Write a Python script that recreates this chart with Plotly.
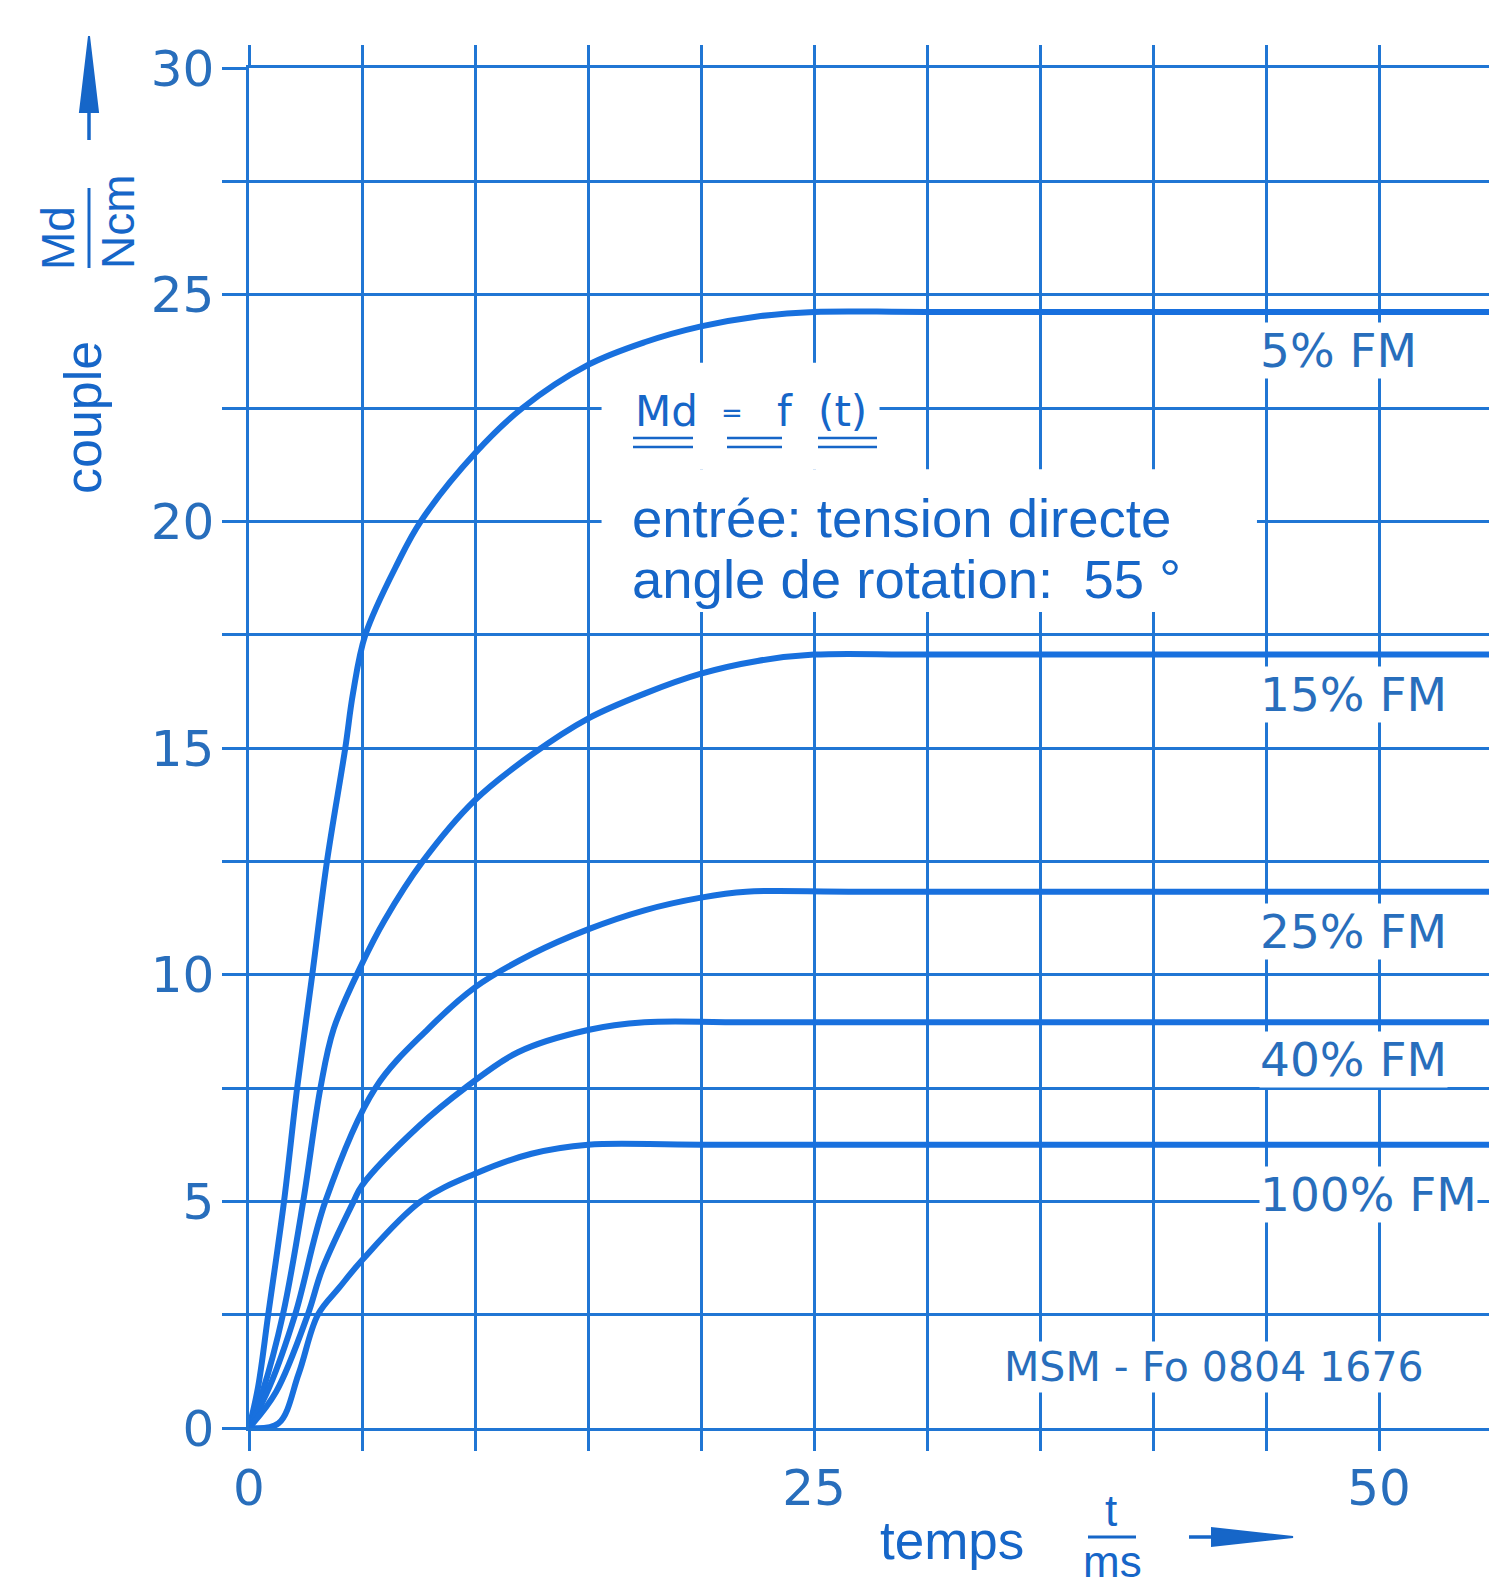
import plotly.graph_objects as go

# ---------------- data ----------------
t_5 = [0, 0.4, 0.85, 1.55, 2.13, 2.8, 3.45, 4.26, 4.6, 5.15, 6.6, 7.6, 10.0, 12.1, 15.0, 17.5, 20.0, 22.5, 25.0, 30.0, 55.0]
md_5 = [0, 0.9, 2.5, 5.0, 7.5, 10.0, 12.5, 15.0, 16.2, 17.5, 19.1, 20.0, 21.5, 22.5, 23.45, 23.95, 24.3, 24.52, 24.62, 24.62, 24.62]

t_15 = [0, 0.6, 1.5, 2.4, 3.16, 3.75, 5.0, 6.0, 7.69, 10.0, 12.5, 15.0, 17.5, 20.0, 22.5, 25.0, 30.0, 55.0]
md_15 = [0, 0.8, 2.5, 5.0, 7.5, 8.81, 10.24, 11.2, 12.5, 13.85, 14.85, 15.65, 16.2, 16.64, 16.92, 17.06, 17.06, 17.06]

t_25 = [0, 0.9, 2.04, 3.38, 5.59, 7.94, 10.0, 12.5, 15.0, 17.5, 20.0, 22.0, 27.0, 55.0]
md_25 = [0, 0.9, 2.5, 5.0, 7.5, 8.81, 9.72, 10.45, 11.0, 11.42, 11.7, 11.83, 11.83, 11.83]

t_40 = [0, 1.2, 2.6, 3.24, 4.63, 5.0, 7.5, 9.56, 11.9, 15.0, 17.5, 22.0, 55.0]
md_40 = [0, 0.8, 2.5, 3.5, 5.0, 5.35, 6.65, 7.5, 8.29, 8.78, 8.95, 8.95, 8.95]

t_100 = [0, 1.3, 2.2, 3.05, 4.0, 5.0, 7.6, 10.0, 12.5, 15.0, 20.0, 55.0]
md_100 = [0, 0.1, 1.2, 2.5, 3.1, 3.7, 5.0, 5.61, 6.05, 6.25, 6.25, 6.25]

curve_labels = ["5% FM", "15% FM", "25% FM", "40% FM", "100% FM"]
label_y = [23.76, 16.17, 10.96, 8.12, 5.16]
label_x = 44.7

x_tick_vals = [0, 5, 10, 15, 20, 25, 30, 35, 40, 45, 50, 55]
x_tick_text = ["0", "", "", "", "", "25", "", "", "", "", "50", ""]
y_tick_vals = [0, 2.5, 5, 7.5, 10, 12.5, 15, 17.5, 20, 22.5, 25, 27.5, 30]
y_tick_text = ["0", "", "5", "", "10", "", "15", "", "20", "", "25", "", "30"]

# ---------------- styling ----------------
CURVE = "rgb(24,112,222)"
GRID = "rgb(32,118,212)"
TXT = "rgb(22,102,200)"
TICKTXT = "rgb(40,110,188)"
DIN = "DejaVu Sans, Liberation Sans, sans-serif"
HEL = "Liberation Sans, Arial, sans-serif"

# page geometry (the html body adds an 8 px offset)
OFF = 8
PL, PT = 249, 68          # plot area top-left on the page
PW, PH = 1243, 1360       # plot area size
W, H = 1489, 1579
L, T = PL - OFF, PT - OFF
R = W - L - PW
B = H - T - PH


def PX(px):
    return (px - PL) / PW


def PY(py):
    return (PT + PH - py) / PH


fig = go.Figure()
for t, m in [(t_5, md_5), (t_15, md_15), (t_25, md_25), (t_40, md_40), (t_100, md_100)]:
    fig.add_trace(go.Scatter(x=t, y=m, mode="lines",
                             line=dict(color=CURVE, width=6, shape="spline", smoothing=1.0),
                             hoverinfo="skip", showlegend=False))

shapes = []
# white areas behind the central text block (above grid, below curves)
shapes.append(dict(type="rect", xref="x", yref="y", x0=15.6, x1=27.9, y0=21.15, y1=23.5,
                   fillcolor="white", line=dict(width=0), layer="between"))
shapes.append(dict(type="rect", xref="x", yref="y", x0=15.6, x1=44.6, y0=18.0, y1=21.15,
                   fillcolor="white", line=dict(width=0), layer="between"))
# double underlines of "Md = f (t)"
for (a, b) in [(633, 693), (727, 782), (818, 877)]:
    for yy in (438, 447):
        shapes.append(dict(type="line", xref="paper", yref="paper", x0=PX(a), x1=PX(b),
                           y0=PY(yy), y1=PY(yy), line=dict(color=TXT, width=2.5)))
# fraction bars
shapes.append(dict(type="line", xref="paper", yref="paper", x0=PX(89), x1=PX(89),
                   y0=PY(188), y1=PY(268), line=dict(color=TXT, width=3)))
shapes.append(dict(type="line", xref="paper", yref="paper", x0=PX(1088), x1=PX(1136),
                   y0=PY(1537), y1=PY(1537), line=dict(color=TXT, width=3)))
# y-axis arrow
shapes.append(dict(type="line", xref="paper", yref="paper", x0=PX(89), x1=PX(89),
                   y0=PY(140), y1=PY(105), line=dict(color=TXT, width=3.5)))
shapes.append(dict(type="path", xref="paper", yref="paper",
                   path=f"M {PX(89)},{PY(36)} L {PX(80)},{PY(112)} L {PX(98)},{PY(112)} Z",
                   fillcolor=TXT, line=dict(color=TXT, width=2)))
# x-axis arrow
shapes.append(dict(type="line", xref="paper", yref="paper", x0=PX(1189), x1=PX(1220),
                   y0=PY(1537), y1=PY(1537), line=dict(color=TXT, width=3.5)))
shapes.append(dict(type="path", xref="paper", yref="paper",
                   path=f"M {PX(1293)},{PY(1537)} L {PX(1212)},{PY(1528)} L {PX(1212)},{PY(1546)} Z",
                   fillcolor=TXT, line=dict(color=TXT, width=2)))

ann = []
# curve labels
for lab, yv in zip(curve_labels, label_y):
    ann.append(dict(x=label_x, y=yv, xref="x", yref="y", text=lab, showarrow=False,
                    xanchor="left", yanchor="middle", bgcolor="white", borderpad=0,
                    font=dict(family=DIN, size=47, color=TICKTXT)))
# reference number
ann.append(dict(x=PX(1214), y=PY(1367), xref="paper", yref="paper", text="MSM - Fo 0804 1676",
                showarrow=False, xanchor="center", yanchor="middle", bgcolor="white",
                font=dict(family=DIN, size=41, color=TICKTXT)))
# Md = f (t)
ann.append(dict(x=PX(633), y=PY(411), xref="paper", yref="paper", text="Md", showarrow=False,
                xanchor="left", yanchor="middle", font=dict(family=DIN, size=42, color=TXT)))
ann.append(dict(x=PX(732), y=PY(413), xref="paper", yref="paper", text="=", showarrow=False,
                xanchor="center", yanchor="middle", font=dict(family=DIN, size=26, color=TXT)))
ann.append(dict(x=PX(785), y=PY(411), xref="paper", yref="paper", text="f", showarrow=False,
                xanchor="center", yanchor="middle", font=dict(family=DIN, size=42, color=TXT)))
ann.append(dict(x=PX(842), y=PY(411), xref="paper", yref="paper", text="(t)", showarrow=False,
                xanchor="center", yanchor="middle", font=dict(family=DIN, size=42, color=TXT)))
# description
ann.append(dict(x=PX(630), y=PY(518), xref="paper", yref="paper", text="entrée: tension directe",
                showarrow=False, xanchor="left", yanchor="middle",
                font=dict(family=HEL, size=54.5, color=TXT)))
ann.append(dict(x=PX(630), y=PY(579), xref="paper", yref="paper", text="angle de rotation:  55 °",
                showarrow=False, xanchor="left", yanchor="middle",
                font=dict(family=HEL, size=54.5, color=TXT)))
# y axis title
ann.append(dict(x=PX(83), y=PY(417), xref="paper", yref="paper", text="couple", textangle=-90,
                showarrow=False, xanchor="center", yanchor="middle",
                font=dict(family=HEL, size=52, color=TXT)))
ann.append(dict(x=PX(58), y=PY(238), xref="paper", yref="paper", text="Md", textangle=-90,
                showarrow=False, xanchor="center", yanchor="middle",
                font=dict(family=HEL, size=46, color=TXT)))
ann.append(dict(x=PX(118), y=PY(222), xref="paper", yref="paper", text="Ncm", textangle=-90,
                showarrow=False, xanchor="center", yanchor="middle",
                font=dict(family=HEL, size=46, color=TXT)))
# x axis title
ann.append(dict(x=PX(952), y=PY(1540), xref="paper", yref="paper", text="temps",
                showarrow=False, xanchor="center", yanchor="middle",
                font=dict(family=HEL, size=53, color=TXT)))
ann.append(dict(x=PX(1111), y=PY(1510), xref="paper", yref="paper", text="t",
                showarrow=False, xanchor="center", yanchor="middle",
                font=dict(family=HEL, size=44, color=TXT)))
ann.append(dict(x=PX(1112), y=PY(1561), xref="paper", yref="paper", text="ms",
                showarrow=False, xanchor="center", yanchor="middle",
                font=dict(family=HEL, size=44, color=TXT)))

axis_common = dict(showgrid=True, gridcolor=GRID, gridwidth=2.5, zeroline=False,
                   showline=True, linecolor=GRID, linewidth=2.5, mirror="ticks",
                   ticks="outside", tickcolor=GRID, tickwidth=2.5, automargin=False,
                   tickfont=dict(family=DIN, size=50, color=TICKTXT))

fig.update_layout(
    width=W, height=H, autosize=False,
    margin=dict(l=L, r=R, t=T, b=B, pad=0, autoexpand=False),
    paper_bgcolor="white", plot_bgcolor="white",
    showlegend=False,
    xaxis=dict(range=[0, 55], tickmode="array", tickvals=x_tick_vals, ticktext=x_tick_text,
               ticklen=20, ticklabelstandoff=-6, **axis_common),
    yaxis=dict(range=[0, 30], tickmode="array", tickvals=y_tick_vals, ticktext=y_tick_text,
               ticklen=24, ticklabelstandoff=-2, **axis_common),
    shapes=shapes,
    annotations=ann,
)

fig.write_html("out.html")
